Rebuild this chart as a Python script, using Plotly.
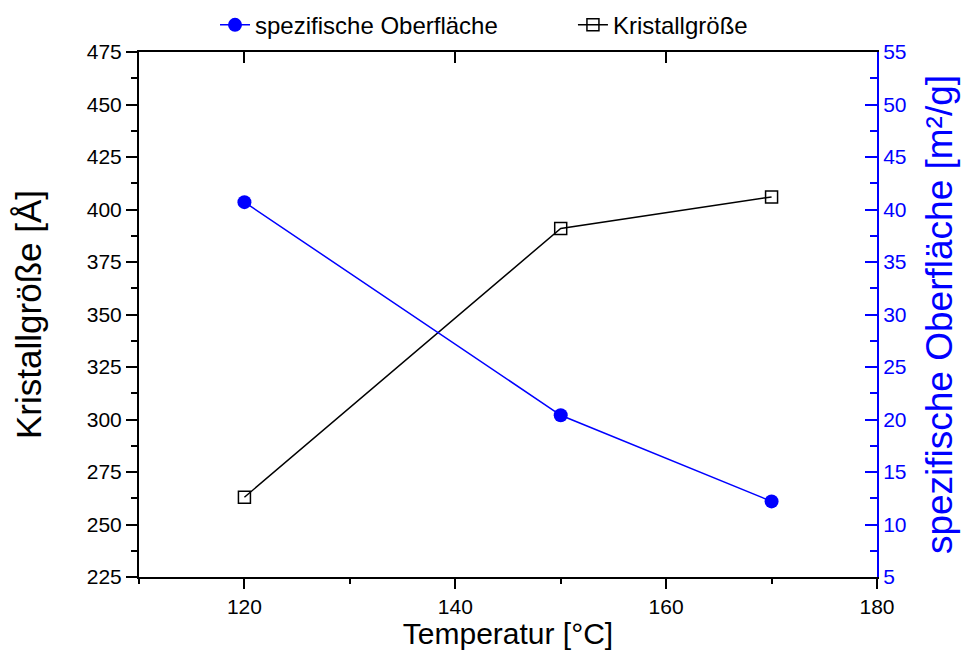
import plotly.graph_objects as go

temperature = [120, 150, 170]
kristallgroesse = [263, 391, 406]
spez_oberflaeche = [40.7, 20.4, 12.2]

FONT = "Liberation Sans, Arial, sans-serif"
BLUE = "#0000FF"

fig = go.Figure()
fig.add_trace(go.Scatter(
    x=temperature, y=spez_oberflaeche, name="spezifische Oberfläche",
    mode="lines+markers", yaxis="y2", legend="legend",
    line=dict(color=BLUE, width=1.5),
    marker=dict(symbol="circle", size=14, color=BLUE, line=dict(width=0)),
))
fig.add_trace(go.Scatter(
    x=temperature, y=kristallgroesse, name="Kristallgröße",
    mode="lines+markers", yaxis="y", legend="legend2",
    line=dict(color="black", width=1.5),
    marker=dict(symbol="square-open", size=12, color="black", line=dict(width=1.5)),
))

tickfont = dict(family=FONT, size=21, color="black")
legfont = dict(family=FONT, size=24, color="black")

fig.update_layout(
    width=970, height=650,
    margin=dict(l=139, r=93, t=52, b=73, autoexpand=False),
    paper_bgcolor="white", plot_bgcolor="white",
    font=dict(family=FONT, color="black"),
    showlegend=True,
    legend=dict(orientation="h", x=0.103, xanchor="left", y=1.051, yanchor="middle",
                font=legfont, bgcolor="rgba(0,0,0,0)"),
    legend2=dict(orientation="h", x=0.588, xanchor="left", y=1.051, yanchor="middle",
                 font=legfont, bgcolor="rgba(0,0,0,0)"),
    xaxis=dict(
        range=[110, 180], dtick=20, ticks="outside", ticklen=10, tickwidth=2,
        tickcolor="black", showline=True, linecolor="black", linewidth=2,
        mirror=True, showgrid=False, zeroline=False, tickfont=tickfont, automargin=False,
        minor=dict(dtick=10, ticks="outside", ticklen=5, tickwidth=2, tickcolor="black"),
        title=dict(text="Temperatur [°C]", font=dict(family=FONT, size=30, color="black"), standoff=0),
    ),
    xaxis2=dict(
        range=[110, 180], dtick=20, overlaying="x", side="top", ticks="inside",
        ticklen=11, tickwidth=2, tickcolor="black", showticklabels=False,
        showline=False, showgrid=False, zeroline=False, matches="x", automargin=False,
    ),
    yaxis=dict(
        range=[225, 475], dtick=25, ticks="outside", ticklen=11, tickwidth=2,
        tickcolor="black", showline=True, linecolor="black", linewidth=2,
        showgrid=False, zeroline=False, tickfont=tickfont, automargin=False,
        minor=dict(dtick=12.5, ticks="outside", ticklen=6, tickwidth=2, tickcolor="black"),
        title=dict(text="Kristallgröße [Å]", font=dict(family=FONT, size=35, color="black"), standoff=35),
    ),
    yaxis2=dict(
        range=[5, 55], dtick=5, overlaying="y", side="right", anchor="x",
        ticks="inside", ticklen=12, tickwidth=2, tickcolor=BLUE,
        showline=True, linecolor=BLUE, linewidth=2,
        showgrid=False, zeroline=False, automargin=False,
        tickfont=dict(family=FONT, size=21, color=BLUE),
        minor=dict(dtick=2.5, ticks="inside", ticklen=7, tickwidth=2, tickcolor=BLUE),
        title=dict(text="spezifische Oberfläche [m²/g]", font=dict(family=FONT, size=37, color=BLUE), standoff=21),
    ),
)
# invisible trace to activate top axis
fig.add_trace(go.Scatter(x=[None], y=[None], xaxis="x2", showlegend=False, hoverinfo="skip"))

fig.write_html("out.html", config={"displayModeBar": False},
               post_script="document.body.style.margin='0';")
